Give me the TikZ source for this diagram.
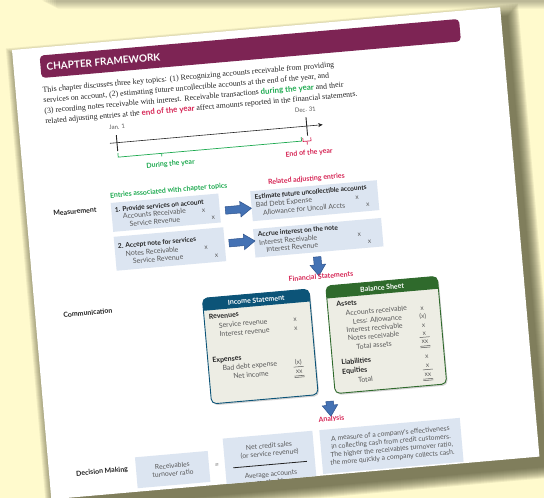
\documentclass[tikz,border=0pt]{standalone}
\usepackage{fontspec}
\setmainfont{Liberation Serif}
\newfontfamily\sansf{Lato}
\usetikzlibrary{shapes.arrows,shadows,calc,arrows.meta}
\definecolor{bgyellow}{RGB}{255,250,205}
\definecolor{maroon}{RGB}{125,36,84}
\definecolor{grn}{RGB}{30,170,80}
\definecolor{crim}{RGB}{214,36,84}
\definecolor{boxblue}{RGB}{220,229,241}
\definecolor{arrfill}{RGB}{68,114,180}
\definecolor{arrline}{RGB}{45,82,140}
\definecolor{ishead}{RGB}{12,84,120}
\definecolor{bshead}{RGB}{47,106,44}
\definecolor{stbody}{RGB}{237,237,228}
\definecolor{txtgray}{RGB}{88,88,88}
\definecolor{txtdark}{RGB}{35,35,35}
\definecolor{shadowc}{RGB}{70,68,40}
\newcommand\fs[1]{\fontsize{#1}{#1}\selectfont}
\tikzset{
 every node/.style={inner sep=0pt, outer sep=0pt},
 bodyline/.style={anchor=base west, font=\fs{7.9}, text=black!85},
 sect/.style={anchor=base west, font=\sansf\bfseries\fs{7}, text=txtdark},
 tlab/.style={font=\sansf\fs{6}, text=txtgray},
 glab/.style={font=\sansf\bfseries\fs{7}, text=grn},
 rlab/.style={font=\sansf\bfseries\fs{7}, text=crim},
 jbox/.style={fill=boxblue, anchor=north west},
 jtitle/.style={anchor=base west, font=\sansf\bfseries\fs{6.6}, text=txtdark},
 jitem/.style={anchor=base west, font=\sansf\fs{7}, text=txtgray},
 jamt/.style={anchor=base, font=\sansf\fs{6.5}, text=txtgray},
 barrow/.style={single arrow, fill=arrfill, draw=arrline, line width=0.5pt, inner xsep=0pt, inner ysep=3.5pt, single arrow head extend=4pt, single arrow tip angle=70},
 stbox/.style={rounded corners=5pt, fill=stbody, anchor=north west, drop shadow={opacity=0.35, shadow xshift=1.2pt, shadow yshift=-1.5pt}},
 sthead/.style={font=\sansf\bfseries\fs{7}, text=white},
 sitem/.style={anchor=base west, font=\sansf\fs{7}, text=txtgray},
 sbold/.style={anchor=base west, font=\sansf\bfseries\fs{7}, text=txtdark},
 samt/.style={anchor=base, font=\sansf\fs{6.5}, text=txtgray},
 dbox/.style={fill=boxblue, anchor=north west},
 dtext/.style={font=\sansf\fs{6.8}, text=txtgray, align=center},
}
\begin{document}
\begin{tikzpicture}[x=1pt,y=1pt]
\useasboundingbox (0,0) rectangle (544,498);
\fill[bgyellow] (0,0) rectangle (544,498);
% shadow of something above
\foreach \i in {1,...,8}{
  \fill[black, opacity=0.035, rounded corners=3pt] (40+2*\i,510) rectangle (560,497-\i);
}
\begin{scope}[shift={(12pt,448pt)}, rotate=5, x=1pt, y=-1pt, transform shape]
 % page shadow
 \foreach \r in {12,...,1}{
   \fill[shadowc, opacity=0.085] (6-\r,10-\r) rectangle (496+\r,461+\r);
 }
 \fill[white] (0,0) rectangle (490,451);
 \begin{scope}
 \clip (0,0) rectangle (490,451);
 % header bar
 \node[fill=maroon, rounded corners=4pt, minimum width=421pt, minimum height=22.5pt, anchor=north west] (bar) at (27,8) {};
 \node[anchor=base west, font=\sansf\bfseries\fs{10}, text=white] (bartxt) at (33,23.5) {CHAPTER FRAMEWORK};
 % intro text
 \node[bodyline] (l1) at (27,45) {This chapter discusses three key topics: (1) Recognizing accounts receivable from providing};
 \node[bodyline] (l2) at (27,55.5) {services on account, (2) estimating future uncollectible accounts at the end of the year, and};
 \node[bodyline] (l3) at (27,66) {(3) recording notes receivable with interest. Receivable transactions {\color{grn}\sansf\bfseries during the year} and their};
 \node[bodyline] (l4) at (27,76.5) {related adjusting entries at the {\color{crim}\sansf\bfseries end of the year} affect amounts reported in the financial statements.};
 % timeline
 \coordinate (t0) at (89.5,101.5);
 \coordinate (t1) at (303,101.5);
 \coordinate (tjan) at (96.5,101.5);
 \coordinate (tdec) at (287,101.5);
 \draw[line width=0.6pt, black!85, -{Stealth[length=4.5pt,width=4pt]}] (t0) -- (t1);
 \draw[line width=0.9pt, black!85] ($(tjan)+(0,-7.5)$) -- ($(tjan)+(0,8.5)$);
 \draw[line width=0.9pt, black!85] ($(tdec)+(0,-9)$) -- ($(tdec)+(0,9.5)$);
 \node[tlab] (janl) at (98,86) {Jan. 1};
 \node[tlab] (decl) at (287,85) {Dec. 31};
 \draw[grn, line width=0.7pt] (96.5,112) -- (96.5,116) -- (280.5,116) -- (280.5,112);
 \draw[grn, line width=0.7pt] (140,116) -- (140,119);
 \draw[crim, line width=0.7pt] (282,113) -- (282,116.5) -- (290,116.5) -- (290,113);
 \draw[crim, line width=0.7pt] (286,116.5) -- (286,120);
 \node[glab] (during) at (148,127.5) {During the year};
 \node[rlab] (endy) at (287,128.5) {End of the year};
 % section labels
 \node[sect] (meas) at (27,169) {Measurement};
 \node[sect] (comm) at (28,271) {Communication};
 \node[sect] (decm) at (27,430) {Decision Making};
 % measurement boxes
 \node[glab, anchor=west] (entl) at (85,154) {Entries associated with chapter topics};
 \node[rlab] (adjl) at (282,154.5) {Related adjusting entries};
 \node[jbox, minimum width=108pt, minimum height=29pt] (b1) at (85,161) {};
 \node[jtitle] (b1t) at (88.5,170.5) {1. Provide services on account};
 \node[jitem] (b1a) at (96,178) {Accounts Receivable};
 \node[jitem] (b1b) at (102,186) {Service Revenue};
 \node[jamt] (b1x) at (177,178) {x};
 \node[jamt] (b1y) at (186,186.5) {x};
 \node[jbox, minimum width=110pt, minimum height=34pt] (b2) at (85,195) {};
 \node[jtitle] (b2t) at (88.5,207) {2. Accept note for services};
 \node[jitem] (b2a) at (95.5,215.5) {Notes Receivable};
 \node[jitem] (b2b) at (102,223.5) {Service Revenue};
 \node[jamt] (b2x) at (176,215.5) {x};
 \node[jamt] (b2y) at (186,224) {x};
 \node[jbox, minimum width=127pt, minimum height=30pt] (b3) at (225,161.5) {};
 \node[jtitle] (b3t) at (229,170) {Estimate future uncollectible accounts};
 \node[jitem] (b3a) at (229.4,178) {Bad Debt Expense};
 \node[jitem] (b3b) at (236,186.3) {Allowance for Uncoll Accts};
 \node[jamt] (b3x) at (331,178.5) {x};
 \node[jamt] (b3y) at (341,186.5) {x};
 \node[jbox, minimum width=128.5pt, minimum height=28.5pt] (b4) at (224.5,199.5) {};
 \node[jtitle] (b4t) at (229,207.5) {Accrue interest on the note};
 \node[jitem] (b4a) at (229.4,216) {Interest Receivable};
 \node[jitem] (b4b) at (236,223.5) {Interest Revenue};
 \node[jamt] (b4x) at (330,216) {x};
 \node[jamt] (b4y) at (339.5,224) {x};
 % block arrows
 \node[barrow, minimum height=26pt, minimum width=15pt] (a1) at ($(b1.east)!0.5!(b3.west)+(0,2.5)$) {};
 \node[barrow, minimum height=26pt, minimum width=15pt] (a2) at ($(b2.east)!0.5!(b4.west)+(0,-1.5)$) {};
 \node[barrow, minimum height=19pt, minimum width=15pt, rotate=-90] (a3) at (286,239.5) {};
 \node[rlab] (fsl) at (288,252.5) {Financial Statements};
 % statements
 \node[stbox, minimum width=107pt, minimum height=106pt] (is) at (168,264) {};
 \begin{scope}
  \clip[rounded corners=5pt] (is.north west) rectangle (is.south east);
  \fill[ishead] (is.north west) rectangle ($(is.north east)+(0,12.5)$);
 \end{scope}
 \draw[ishead, line width=0.9pt, rounded corners=5pt] (is.north west) rectangle (is.south east);
 \node[sthead] (ist) at ($(is.north)+(0,6.5)$) {Income Statement};
 \node[sbold] (is1) at (173,285.5) {Revenues};
 \node[sitem] (is2) at (182,295) {Service revenue};
 \node[sitem] (is3) at (182,304) {Interest revenue};
 \node[samt] (is2x) at (258.5,295.5) {x};
 \node[samt] (is3x) at (258.5,304.5) {x};
 \node[sbold] (is4) at (172.6,329) {Expenses};
 \node[sitem] (is5) at (182,338) {Bad debt expense};
 \node[sitem] (is6) at (192,347) {Net income};
 \node[samt] (is5x) at (258,338) {(x)};
 \node[samt] (is6x) at (258,347) {xx};
 \draw[txtgray, line width=0.5pt] (253,340.5) -- (263,340.5);
 \draw[txtgray, line width=0.5pt] (253,349.5) -- (263,349.5) (253,351) -- (263,351);
 \node[stbox, minimum width=112pt, minimum height=108pt] (bs) at (292,262.5) {};
 \begin{scope}
  \clip[rounded corners=5pt] (bs.north west) rectangle (bs.south east);
  \fill[bshead] (bs.north west) rectangle ($(bs.north east)+(0,12.5)$);
 \end{scope}
 \draw[bshead, line width=0.9pt, rounded corners=5pt] (bs.north west) rectangle (bs.south east);
 \node[sthead] (bst) at ($(bs.north)+(0,6.5)$) {Balance Sheet};
 \node[sbold] (bs1) at (301,284) {Assets};
 \node[sitem] (bs2) at (309.5,294) {Accounts receivable};
 \node[sitem] (bs3) at (316,302.8) {Less: Allowance};
 \node[sitem] (bs4) at (308.7,311) {Interest receivable};
 \node[sitem] (bs5) at (309.6,319.2) {Notes receivable};
 \node[sitem] (bs6) at (317.3,328.3) {Total assets};
 \node[sbold] (bs7) at (301,342.5) {Liabilities};
 \node[sbold] (bs8) at (301,351.6) {Equities};
 \node[sitem] (bs9) at (316,361.6) {Total};
 \node[samt] (bs2x) at (386,295) {x};
 \node[samt] (bs3x) at (386,303.5) {(x)};
 \node[samt] (bs4x) at (386,312) {x};
 \node[samt] (bs5x) at (386,320) {x};
 \node[samt] (bs6x) at (386,328.5) {xx};
 \node[samt] (bs7x) at (386.5,343.5) {x};
 \node[samt] (bs8x) at (386.5,352.5) {x};
 \node[samt] (bs9x) at (386,361.5) {xx};
 \draw[txtgray, line width=0.5pt] (381,322) -- (391,322);
 \draw[txtgray, line width=0.5pt] (381,330.8) -- (391,330.8) (381,332.3) -- (391,332.3);
 \draw[txtgray, line width=0.5pt] (381.5,354.5) -- (391.5,354.5);
 \draw[txtgray, line width=0.5pt] (381,363.8) -- (391,363.8) (381,365.3) -- (391,365.3);
 \node[barrow, minimum height=15pt, minimum width=14pt, rotate=-90] (a4) at (285.8,382.5) {};
 \node[rlab] (anl) at (286,395.5) {Analysis};
 % decision making
 \node[dbox, minimum width=73pt, minimum height=31pt] (da) at (87,416.5) {};
 \node[dtext] (dat) at (da.center) {Receivables\\[1pt]turnover ratio};
 \node[font=\sansf\fs{7}, text=txtgray] (eq) at (168,432) {=};
 \node[dbox, minimum width=90pt, minimum height=55pt] (db) at (176,405.5) {};
 \node[dtext] (dbt) at (221.5,421) {Net credit sales\\[1pt](or service revenue)};
 \draw[txtdark, line width=0.8pt] (184,435.5) -- (258,435.5);
 \node[dtext] (dbb) at (221,449) {Average accounts\\[1pt]receivable};
 \node[dbox, minimum width=141pt, minimum height=44pt] (dc) at (273,405.5) {};
 \node[dtext] (dct) at (dc.center) {A measure of a company's effectiveness\\[1.2pt]in collecting cash from credit customers.\\[1.2pt]The higher the receivables turnover ratio,\\[1.2pt]the more quickly a company collects cash.};
 \end{scope}
\end{scope}
\end{tikzpicture}
\end{document}
